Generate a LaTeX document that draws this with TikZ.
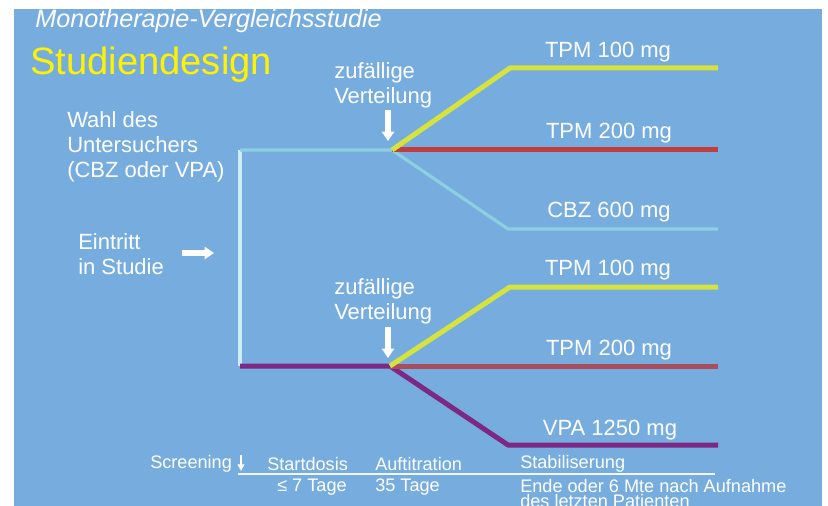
\documentclass[tikz,border=0pt]{standalone}
\usepackage{fontspec}
\setmainfont{Liberation Sans}
\usepackage{tikz}
\usetikzlibrary{arrows.meta}
\definecolor{bgblue}{RGB}{118,173,222}
\definecolor{armyellow}{RGB}{214,226,62}
\definecolor{armred}{RGB}{192,62,62}
\definecolor{armbrown}{RGB}{168,78,92}
\definecolor{armcyan}{RGB}{140,206,226}
\definecolor{armpurple}{RGB}{124,40,132}
\definecolor{entryline}{RGB}{205,236,246}

\begin{document}
\begin{tikzpicture}[x=0.75pt,y=-0.75pt,
  lbl/.style={text=white,inner sep=0pt,font=\fontsize{16.5}{18.75}\selectfont},
  dose/.style={lbl,anchor=center},
  phase/.style={text=white,inner sep=0pt,anchor=west,font=\fontsize{13.6}{11.5}\selectfont},
  arm/.style={line width=3.75pt,line join=round},
  thin arm/.style={line width=2.4pt,line join=round},
  hint/.style={white,line width=3.8pt,-{Triangle[width=9pt,length=7pt]}}]
\useasboundingbox (0,0) rectangle (828,506);
\fill[bgblue] (14,9) rectangle (822,506);
% ---- headings ----
\node[text=white,inner sep=0pt,anchor=west,font=\fontsize{18.9}{21}\selectfont\itshape] (title) at (35,21) {Monotherapie-Vergleichsstudie};
\node[text=yellow,inner sep=0pt,anchor=west,font=\fontsize{28.6}{31}\selectfont] (design) at (30,65) {Studiendesign};
% ---- entry ----
\node[lbl,anchor=west,align=left] (choice) at (67,147) {Wahl des\\Untersuchers\\(CBZ oder VPA)};
\node[lbl,anchor=west,align=left] (entry) at (78,254) {Eintritt\\in Studie};
\coordinate (in0) at (182,253);
\coordinate (in1) at (214,253);
\draw[hint] (in0) -- (in1);
\coordinate (s1) at (240,150);
\coordinate (s2) at (240,366);
\draw[entryline,line width=3pt] (s1) -- (s2);
% ---- upper randomisation (CBZ) ----
\coordinate (j1) at (392,150);
\coordinate (y1) at (510,68);   \coordinate (y1e) at (718,68);
\coordinate (r1e) at (718,150);
\coordinate (c1) at (508,229);  \coordinate (c1e) at (718,229);
\draw[armcyan,thin arm] (s1) -- (j1) -- (c1) -- (c1e);
\draw[armred,arm] (j1) -- (r1e);
\draw[armyellow,arm] (j1) -- (y1) -- (y1e);
\node[lbl,anchor=west,align=left] (rand1) at (334,85) {zufällige\\Verteilung};
\coordinate (a1) at (388,110);
\coordinate (a1e) at (388,141);
\draw[hint] (a1) -- (a1e);
\node[dose] (tpm100a) at (608,52) {TPM 100 mg};
\node[dose] (tpm200a) at (609,133) {TPM 200 mg};
\node[dose] (cbz) at (609,212) {CBZ 600 mg};
% ---- lower randomisation (VPA) ----
\coordinate (j2) at (390,366);
\coordinate (y2) at (510,287);  \coordinate (y2e) at (718,287);
\coordinate (r2e) at (718,366);
\coordinate (p2) at (508,445);  \coordinate (p2e) at (718,445);
\draw[armpurple,arm] (s2) -- (j2) -- (p2) -- (p2e);
\draw[armbrown,arm] (j2) -- (r2e);
\draw[armyellow,arm] (j2) -- (y2) -- (y2e);
\node[lbl,anchor=west,align=left] (rand2) at (334,301) {zufällige\\Verteilung};
\coordinate (a2) at (388,327);
\coordinate (a2e) at (388,358);
\draw[hint] (a2) -- (a2e);
\node[dose] (tpm100b) at (608,270) {TPM 100 mg};
\node[dose] (tpm200b) at (609,350) {TPM 200 mg};
\node[dose] (vpa) at (610,430) {VPA 1250 mg};
% ---- time line ----
\node[phase] (screen) at (150,464) {Screening};
\coordinate (sc0) at (241,455);
\coordinate (sc1) at (241,471);
\draw[white,line width=1.3pt,-{Triangle[width=5pt,length=5pt]}] (sc0) -- (sc1);
\node[phase] (start) at (267,464) {Startdosis};
\node[phase] (titr) at (375,464) {Auftitration};
\node[phase] (stab) at (520,464) {Stabiliserung};
\coordinate (tl0) at (238,474);
\coordinate (tl1) at (715,474);
\draw[white!90!bgblue,line width=1.4pt] (tl0) -- (tl1);
\node[phase] (startd) at (277,487) {≤ 7 Tage};
\node[phase] (titrd) at (375,487) {35 Tage};
\node[phase,anchor=north west,align=left] (stabd) at (520,479) {Ende oder 6 Mte nach Aufnahme\\des letzten Patienten};
\end{tikzpicture}
\end{document}
